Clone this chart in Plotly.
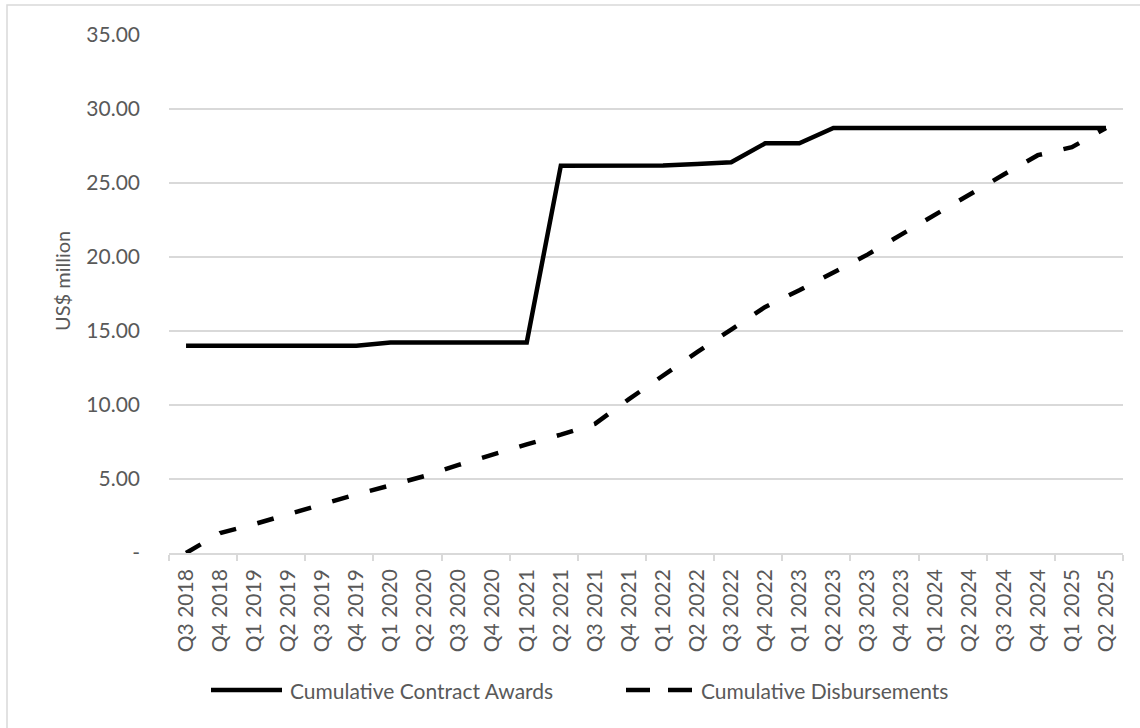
import numpy as np
import plotly.graph_objects as go

quarters = [
    "Q3 2018", "Q4 2018", "Q1 2019", "Q2 2019", "Q3 2019", "Q4 2019",
    "Q1 2020", "Q2 2020", "Q3 2020", "Q4 2020", "Q1 2021", "Q2 2021",
    "Q3 2021", "Q4 2021", "Q1 2022", "Q2 2022", "Q3 2022", "Q4 2022",
    "Q1 2023", "Q2 2023", "Q3 2023", "Q4 2023", "Q1 2024", "Q2 2024",
    "Q3 2024", "Q4 2024", "Q1 2025", "Q2 2025",
]

contract_awards = [
    14.00, 14.00, 14.00, 14.00, 14.00, 14.00,
    14.23, 14.23, 14.23, 14.23, 14.23, 26.17,
    26.17, 26.17, 26.18, 26.28, 26.40, 27.68,
    27.68, 28.72, 28.72, 28.72, 28.72, 28.72,
    28.72, 28.72, 28.72, 28.72,
]

disbursements = [
    0.00, 1.35, 1.95, 2.63, 3.30, 3.96,
    4.57, 5.20, 5.95, 6.68, 7.34, 8.00,
    8.72, 10.40, 12.00, 13.57, 15.10, 16.63,
    17.75, 18.92, 20.16, 21.53, 22.90, 24.22,
    25.57, 26.88, 27.42, 28.72,
]

series_names = ["Cumulative Contract Awards", "Cumulative Disbursements"]

y_ticks = [0, 5, 10, 15, 20, 25, 30, 35]
y_tick_text = ["-", "5.00", "10.00", "15.00", "20.00", "25.00", "30.00", "35.00"]
y_title = "US$ million"

FONT = "Lato"
TXT = "#595959"
GRID = "#d9d9d9"
DASH = "17px,22px"

x_idx = list(range(len(quarters)))

fig = go.Figure()
fig.add_trace(go.Scatter(
    x=x_idx, y=contract_awards, mode="lines", name=series_names[0],
    line=dict(color="black", width=4.5),
))
fig.add_trace(go.Scatter(
    x=x_idx, y=disbursements, mode="lines", name=series_names[1],
    line=dict(color="black", width=4.5, dash=DASH),
))

ML, MR, MT, MB = 169, 17, 35, 175
W, H = 1140, 728
pw, ph = W - ML - MR, H - MT - MB

def px_x(p):
    return (p - ML) / pw

def px_y(p):
    return (H - MB - p) / ph

LEG_Y = 690
shapes = [
    dict(type="rect", xref="paper", yref="paper",
         x0=px_x(7), x1=px_x(1150), y0=px_y(740), y1=px_y(5),
         line=dict(color=GRID, width=1.5), fillcolor="rgba(0,0,0,0)", layer="below"),
    dict(type="line", xref="paper", yref="paper",
         x0=px_x(211), x1=px_x(282), y0=px_y(LEG_Y), y1=px_y(LEG_Y),
         line=dict(color="black", width=4.5)),
    dict(type="line", xref="paper", yref="paper",
         x0=px_x(626), x1=px_x(693), y0=px_y(LEG_Y), y1=px_y(LEG_Y),
         line=dict(color="black", width=4.5, dash="24px,18px")),
]

annotations = [
    dict(text=series_names[0], xref="paper", yref="paper", x=px_x(288), y=px_y(LEG_Y),
         xanchor="left", yanchor="middle", showarrow=False,
         font=dict(family=FONT, size=21, color=TXT)),
    dict(text=series_names[1], xref="paper", yref="paper", x=px_x(699), y=px_y(LEG_Y),
         xanchor="left", yanchor="middle", showarrow=False,
         font=dict(family=FONT, size=21, color=TXT)),
    dict(text=y_title, xref="paper", yref="paper", x=px_x(62), y=px_y(281),
         xanchor="center", yanchor="middle", textangle=-90, showarrow=False,
         font=dict(family=FONT, size=20, color=TXT)),
]

fig.update_layout(
    width=W, height=H,
    margin=dict(l=ML, r=MR, t=MT, b=MB),
    paper_bgcolor="white", plot_bgcolor="white",
    font=dict(family=FONT, size=21, color=TXT),
    showlegend=False,
    xaxis=dict(
        range=[-0.5, len(quarters) - 0.5],
        tickmode="array", tickvals=x_idx, ticktext=quarters,
        tickangle=-90, ticks="", showgrid=False, zeroline=False,
        showline=True, linecolor=GRID, linewidth=1.5,
        ticklabelstandoff=6,
        tickfont=dict(family=FONT, size=21, color=TXT),
        minor=dict(
            tickmode="array",
            tickvals=list(np.arange(-0.5, len(quarters), 2)),
            ticks="outside", ticklen=6, tickwidth=1.5, tickcolor=GRID, showgrid=False,
        ),
    ),
    yaxis=dict(
        range=[0, 35], tickmode="array", tickvals=y_ticks, ticktext=y_tick_text,
        showgrid=True, gridcolor=GRID, gridwidth=1.5, zeroline=False, showline=False,
        ticks="", ticklabelstandoff=28,
        tickfont=dict(family=FONT, size=21, color=TXT),
    ),
    shapes=shapes,
    annotations=annotations,
)

fig.write_html("out.html")
